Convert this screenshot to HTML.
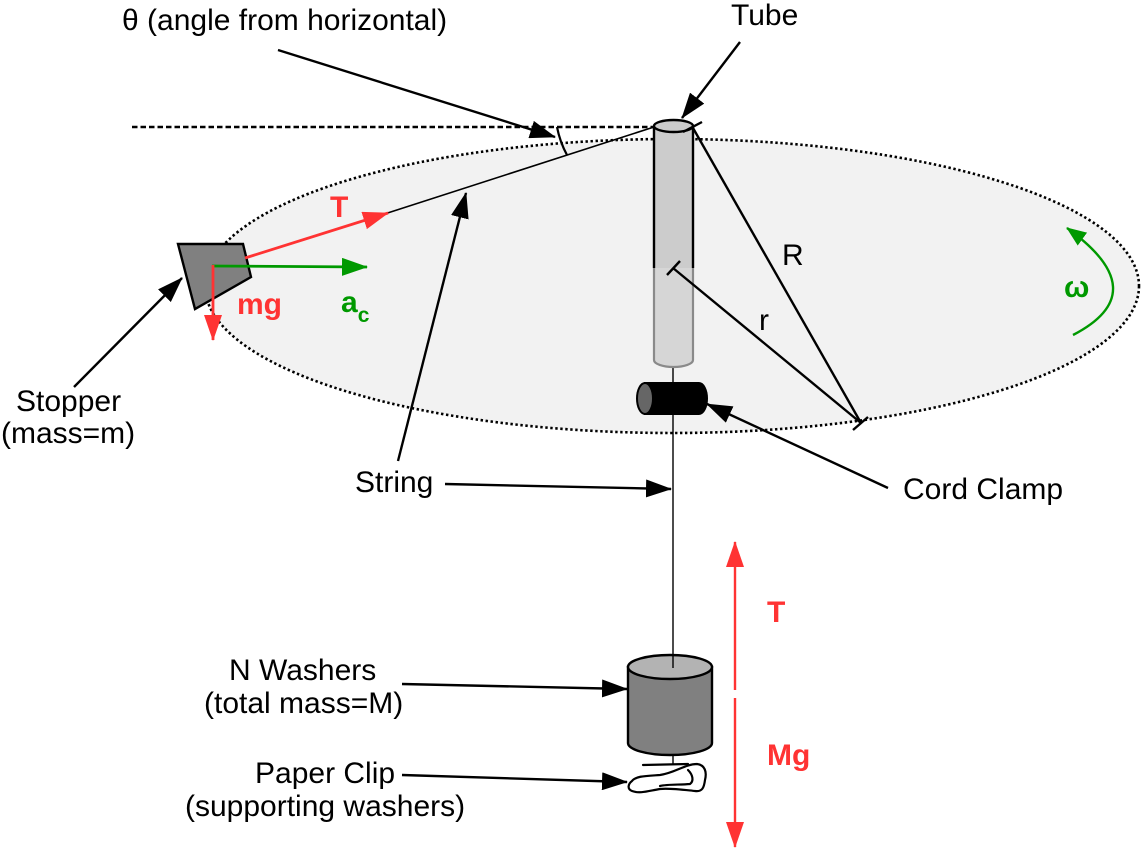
<!DOCTYPE html>
<html><head><meta charset="utf-8"><style>
html,body{margin:0;padding:0;background:#fff}
svg{display:block}
text{font-family:"Liberation Sans",Arial,sans-serif}
</style></head><body>
<svg width="1141" height="849" viewBox="0 0 1141 849" xmlns="http://www.w3.org/2000/svg">
<defs>
<marker id="ab" markerUnits="userSpaceOnUse" markerWidth="26" markerHeight="18" refX="25" refY="9" orient="auto"><path d="M0,0 L26,9 L0,18 z" fill="#000"/></marker>
<marker id="ar" markerUnits="userSpaceOnUse" markerWidth="26" markerHeight="18" refX="25" refY="9" orient="auto"><path d="M0,0 L26,9 L0,18 z" fill="#ff3333"/></marker>
<marker id="ag" markerUnits="userSpaceOnUse" markerWidth="26" markerHeight="18" refX="25" refY="9" orient="auto"><path d="M0,0 L26,9 L0,18 z" fill="#009900"/></marker>
<marker id="ag2" markerUnits="userSpaceOnUse" markerWidth="20" markerHeight="16" refX="19" refY="8" orient="auto"><path d="M0,0 L20,8 L0,16 z" fill="#009900"/></marker>
</defs>

<!-- rotation plane ellipse -->
<ellipse cx="672" cy="286" rx="467" ry="147" fill="#f2f2f2" stroke="#000" stroke-width="2.6" stroke-dasharray="2.4 2.6"/>

<!-- dashed horizontal -->
<line x1="132" y1="127" x2="654" y2="127" stroke="#000" stroke-width="2.4" stroke-dasharray="5.5 3"/>
<!-- theta arc -->
<path d="M557,127 A98,98 0 0 0 567,155" fill="none" stroke="#000" stroke-width="2.2"/>

<!-- string from stopper to tube -->
<line x1="386" y1="213.5" x2="654" y2="127" stroke="#000" stroke-width="1.6"/>

<!-- vertical string -->
<line x1="673" y1="362" x2="673" y2="667" stroke="#000" stroke-width="1.4"/>

<!-- tube lower (transparent) part -->
<path d="M654,268 L654,360 A19.5,7 0 0 0 693,360 L693,268 Z" fill="#d6d6d6" stroke="none"/>
<path d="M654,268 L654,360 A19.5,7 0 0 0 693,360 L693,268" fill="none" stroke="#8a8a8a" stroke-width="2.2"/>
<!-- tube upper part -->
<rect x="654" y="126" width="39" height="142" fill="#cccccc"/>
<line x1="654" y1="126" x2="654" y2="268" stroke="#000" stroke-width="2.4"/>
<line x1="693" y1="126" x2="693" y2="268" stroke="#000" stroke-width="2.4"/>
<ellipse cx="673.5" cy="126" rx="19.5" ry="6" fill="#cccccc" stroke="#000" stroke-width="2.4"/>

<!-- R and r lines -->
<line x1="693" y1="128" x2="861" y2="423" stroke="#000" stroke-width="2.4"/>
<line x1="683" y1="132" x2="702" y2="122" stroke="#000" stroke-width="2.4"/>
<line x1="853" y1="430" x2="868" y2="417" stroke="#000" stroke-width="2.4"/>
<line x1="673" y1="268" x2="861" y2="423" stroke="#000" stroke-width="2.4"/>
<line x1="667" y1="275" x2="680" y2="261" stroke="#000" stroke-width="2.4"/>

<!-- cord clamp -->
<path d="M645,383 L699,383 A8,15.5 0 0 1 699,414 L645,414 Z" fill="#000" stroke="#000" stroke-width="2"/>
<ellipse cx="645" cy="398.5" rx="8" ry="15.5" fill="#666" stroke="#000" stroke-width="2"/>

<!-- stopper -->
<polygon points="178,244 243,244 251,277 195,309" fill="#808080" stroke="#000" stroke-width="2.4"/>

<!-- force arrows at stopper -->
<line x1="245" y1="258" x2="388" y2="213" stroke="#ff3333" stroke-width="2.8" marker-end="url(#ar)"/>
<line x1="212" y1="266" x2="367" y2="267" stroke="#009900" stroke-width="2.8" marker-end="url(#ag)"/>
<line x1="213" y1="265" x2="213" y2="340" stroke="#ff3333" stroke-width="2.8" marker-end="url(#ar)"/>

<!-- omega -->
<path d="M1073,335 Q1156,292 1067,228" fill="none" stroke="#009900" stroke-width="2.4" marker-end="url(#ag2)"/>

<!-- washers -->
<path d="M628,667 L628,743 A42,12 0 0 0 712,743 L712,667 Z" fill="#808080" stroke="#000" stroke-width="2.4"/>
<ellipse cx="670" cy="667" rx="42" ry="12" fill="#b3b3b3" stroke="#000" stroke-width="2.4"/>
<line x1="673" y1="655" x2="673" y2="668" stroke="#000" stroke-width="1.4"/>
<line x1="673" y1="755" x2="673" y2="765" stroke="#000" stroke-width="1.4"/>

<!-- paper clip -->
<g fill="none" stroke="#000" stroke-width="2.2" stroke-linecap="round" stroke-linejoin="round">
<path d="M643,765 L688,764"/>
<path d="M632,781 C636,776 645,776 660,775 C675,773 685,764 697,764 C705,765 707,772 705,780 C704,788 702,792 695,791 C685,790 670,788 660,789 C648,791 640,794 632,791 C627,789 628,784 632,781 Z"/>
<path d="M688,770 C693,775 694,781 690,784 C680,785 668,784 660,786"/>
</g>

<!-- red double arrow -->
<line x1="735" y1="690" x2="735" y2="542" stroke="#ff3333" stroke-width="2.4" marker-end="url(#ar)"/>
<line x1="735" y1="698" x2="735" y2="847" stroke="#ff3333" stroke-width="2.4" marker-end="url(#ar)"/>

<!-- label connectors -->
<g stroke="#000" stroke-width="2.4" fill="none">
<line x1="278" y1="50" x2="555" y2="137" marker-end="url(#ab)"/>
<line x1="740" y1="42" x2="682" y2="118" marker-end="url(#ab)"/>
<line x1="74" y1="387" x2="182" y2="278" marker-end="url(#ab)"/>
<line x1="398" y1="461" x2="466" y2="193" marker-end="url(#ab)"/>
<line x1="445" y1="484" x2="671" y2="489" marker-end="url(#ab)"/>
<line x1="888" y1="488" x2="707" y2="404" marker-end="url(#ab)"/>
<line x1="402" y1="684" x2="627" y2="689" marker-end="url(#ab)"/>
<line x1="402" y1="775" x2="627" y2="782" marker-end="url(#ab)"/>
</g>

<!-- text labels -->
<g font-size="30" fill="#000">
<text x="122" y="30">θ (angle from horizontal)</text>
<text x="731" y="25">Tube</text>
<text x="782" y="265">R</text>
<text x="759" y="330">r</text>
<text x="16" y="411">Stopper</text>
<text x="1" y="443">(mass=m)</text>
<text x="355" y="492">String</text>
<text x="903" y="499">Cord Clamp</text>
<text x="229" y="680">N Washers</text>
<text x="204" y="713">(total mass=M)</text>
<text x="255" y="783">Paper Clip</text>
<text x="185" y="816">(supporting washers)</text>
</g>
<g font-size="30" font-weight="bold">
<text x="330" y="217" fill="#ff3333">T</text>
<text x="237" y="314" fill="#ff3333">mg</text>
<text x="341" y="312" fill="#009900">a<tspan font-size="21" dy="10">c</tspan></text>
<text x="1064" y="297" fill="#009900">ω</text>
<text x="767" y="622" fill="#ff3333">T</text>
<text x="767" y="765" fill="#ff3333">Mg</text>
</g>
</svg>
</body></html>
